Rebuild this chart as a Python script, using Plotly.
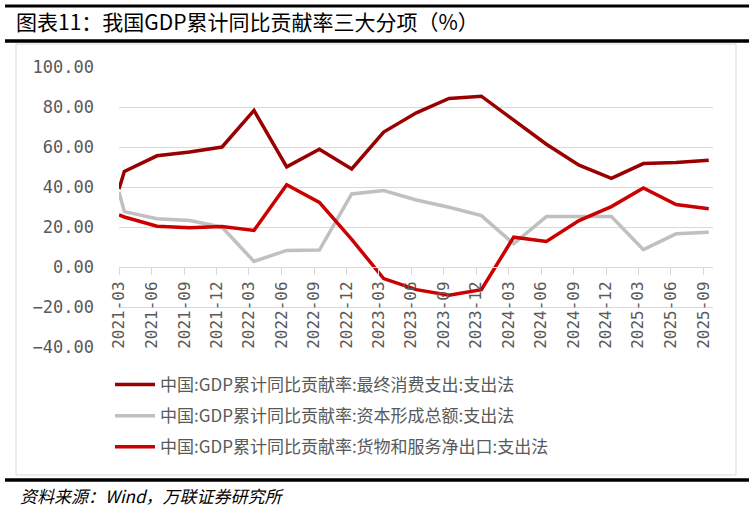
import plotly.graph_objects as go

# ---------------- data ----------------
x_dates = ["2021-03-01", "2021-03-16", "2021-06-16", "2021-09-16", "2021-12-16",
           "2022-03-16", "2022-06-16", "2022-09-16", "2022-12-16",
           "2023-03-16", "2023-06-16", "2023-09-16", "2023-12-16",
           "2024-03-16", "2024-06-16", "2024-09-16", "2024-12-16",
           "2025-03-16", "2025-06-16", "2025-09-16"]
consumption = [39.0, 47.8, 55.6, 57.5, 60.0, 78.3, 50.1, 58.9, 49.0, 67.5, 77.1,
               84.3, 85.4, 73.3, 61.4, 50.9, 44.3, 51.7, 52.2, 53.4]
capital = [37.5, 27.7, 24.1, 23.2, 19.9, 2.8, 8.3, 8.5, 36.5, 38.2, 33.5,
           29.9, 25.7, 11.6, 25.2, 25.2, 25.2, 8.7, 16.6, 17.4]
net_exports = [26.0, 25.0, 20.4, 19.6, 20.2, 18.3, 41.1, 32.3, 13.8, -5.8, -11.3,
               -14.1, -11.3, 14.9, 12.8, 23.2, 30.2, 39.5, 31.2, 29.1]
names = ["中国:GDP累计同比贡献率:最终消费支出:支出法",
         "中国:GDP累计同比贡献率:资本形成总额:支出法",
         "中国:GDP累计同比贡献率:货物和服务净出口:支出法"]
colors = ["#990000", "#C0C0C0", "#CC0000"]
title_text = "图表11：我国GDP累计同比贡献率三大分项（%）"
source_text = "资料来源：Wind，万联证券研究所"

# ---------------- layout geometry ----------------
W, H = 755, 512
L, R, T, B = 119, 713, 67, 347


def px(x):
    return (x - L) / (R - L)


def py(y):
    return (B - y) / (B - T)


CJK = "Noto Sans CJK SC"
MONO = "DejaVu Sans Mono"

fig = go.Figure()
for i, (vals, nm, col) in enumerate(zip([consumption, capital, net_exports], names, colors)):
    fig.add_trace(go.Scatter(
        x=x_dates, y=vals, mode="lines", name=nm,
        line=dict(color=col, width=3.5),
        legendgroup=f"g{i}",
    ))

shapes = [
    dict(type="line", xref="paper", yref="paper", x0=px(5), x1=px(749), y0=py(6), y1=py(6),
         line=dict(color="black", width=3)),
    dict(type="line", xref="paper", yref="paper", x0=px(5), x1=px(749), y0=py(41), y1=py(41),
         line=dict(color="black", width=3.5)),
    dict(type="rect", xref="paper", yref="paper", x0=px(16), x1=px(736), y0=py(44), y1=py(475),
         line=dict(color="#D9D9D9", width=1), layer="below"),
    dict(type="line", xref="paper", yref="paper", x0=px(5), x1=px(749), y0=py(480), y1=py(480),
         line=dict(color="black", width=3.5)),
]

fig.update_layout(
    width=W, height=H,
    margin=dict(l=L, r=W - R, t=T, b=H - B, pad=0),
    paper_bgcolor="white", plot_bgcolor="white",
    showlegend=True,
    title=dict(text=title_text, xref="container", yref="container",
               x=16 / W, xanchor="left", y=1 - 23 / H, yanchor="middle",
               font=dict(family=CJK, size=21, color="black")),
    legend=dict(x=px(110), y=py(367), xanchor="left", yanchor="top",
                font=dict(family=CJK, size=17, color="#595959"),
                tracegroupgap=6, itemwidth=40, bgcolor="rgba(0,0,0,0)"),
    shapes=shapes,
    annotations=[dict(text="<i>" + source_text + "</i>", xref="paper", yref="paper",
                      x=px(18), y=py(496), xanchor="left", yanchor="middle",
                      showarrow=False, font=dict(family=CJK, size=17, color="black"))],
    xaxis=dict(type="date", range=["2021-03-01", "2025-09-28"],
               tick0="2021-03-01", dtick="M3", tickformat="%Y-%m",
               tickangle=-90, anchor="free", position=py(267),
               showgrid=False, zeroline=False,
               showline=True, linecolor="#D9D9D9", linewidth=1,
               ticks="outside", ticklen=7, tickcolor="#D9D9D9",
               tickfont=dict(family=MONO, size=16, color="#595959")),
    yaxis=dict(range=[-40, 100], dtick=20, tick0=0, tickformat=".2f",
               showgrid=True, gridcolor="#D9D9D9", gridwidth=1,
               zeroline=False, showline=False, ticks="",
               ticklabelstandoff=24,
               tickfont=dict(family=MONO, size=17, color="#595959")),
)

fig.write_html("out.html")
